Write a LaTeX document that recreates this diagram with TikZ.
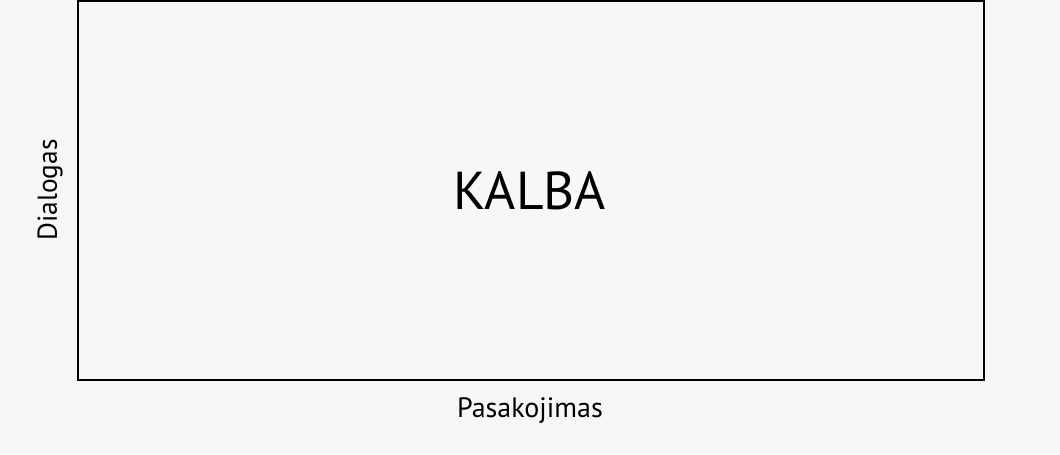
\documentclass[tikz,border=0pt]{standalone}
\usepackage{fontspec}
\setmainfont{PT Sans}
\usepackage{tikz}
\definecolor{bggray}{HTML}{F7F7F7}

\begin{document}
\begin{tikzpicture}[x=0.75pt,y=0.75pt]
    \fill [bggray] (0,0) rectangle (1060,454);
    \useasboundingbox (0,0) rectangle (1060,454);

    \draw [line width=1.5pt, fill=bggray] (78,74) rectangle (984,453);

    \node (kalba) at (530,263) {\fontsize{40}{48}\selectfont KALBA};
    \node (pasakojimas) at (530,43) {\fontsize{21}{25}\selectfont Pasakojimas};
    \node [rotate=90] (dialogas) at (50,264) {\fontsize{20.5}{25}\selectfont Dialogas};
\end{tikzpicture}
\end{document}
